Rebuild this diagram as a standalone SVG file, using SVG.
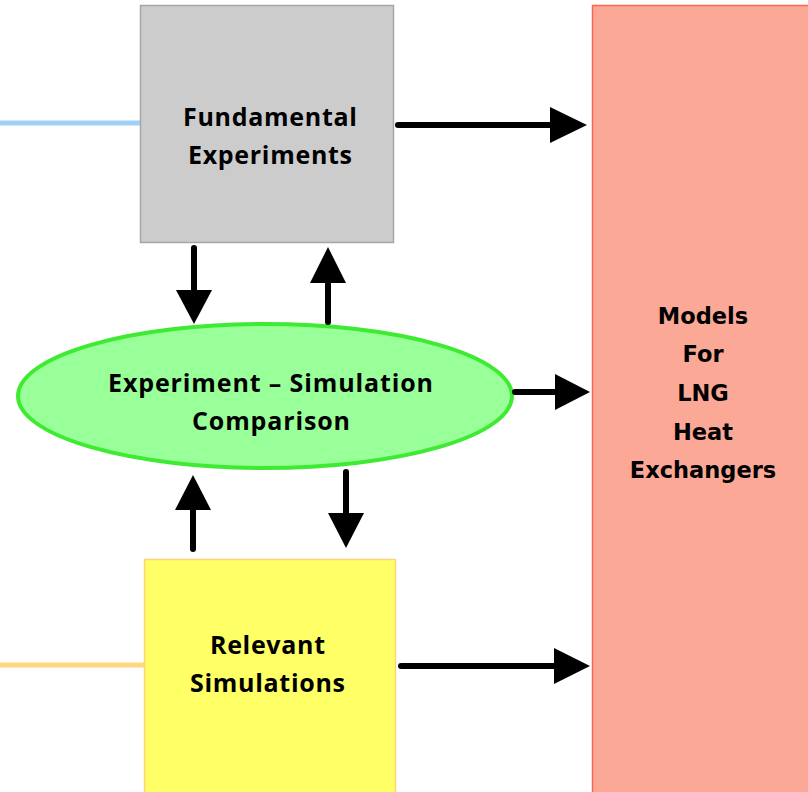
<svg xmlns="http://www.w3.org/2000/svg" width="808" height="792" viewBox="0 0 808 792">
<defs>
<style>
.lbl{font-family:"Open Sans","Liberation Sans",sans-serif;font-weight:bold;font-size:25px;fill:#000;text-anchor:middle}
.lbl2{font-family:"DejaVu Sans","Liberation Sans",sans-serif;font-weight:bold;font-size:22.5px;fill:#000;text-anchor:middle}
.arr{stroke:#000;stroke-width:6;stroke-linecap:round;fill:none}
.head{fill:#000}
</style>
</defs>
<rect width="808" height="792" fill="#fff"/>
<g id="feeds">
<line x1="0" y1="123" x2="141" y2="123" stroke="#9fd0f7" stroke-width="5"/>
<line x1="0" y1="665" x2="144" y2="665" stroke="#ffd77f" stroke-width="5"/>
</g>
<g id="models">
<rect x="592.5" y="5.5" width="220" height="792" fill="#fca896" stroke="#f4694f" stroke-width="1.5"/>
<text class="lbl2" x="703" y="324">Models</text>
<text class="lbl2" x="703" y="362">For</text>
<text class="lbl2" x="703" y="401">LNG</text>
<text class="lbl2" x="703" y="440">Heat</text>
<text class="lbl2" x="703" y="478">Exchangers</text>
</g>
<g id="fundamental">
<rect x="140.5" y="5.5" width="253" height="237" fill="#cccccc" stroke="#a6a6a6" stroke-width="1.5"/>
<text class="lbl" x="270" y="126" textLength="174" lengthAdjust="spacing">Fundamental</text>
<text class="lbl" x="270" y="164" textLength="164" lengthAdjust="spacing">Experiments</text>
</g>
<g id="comparison">
<ellipse cx="265" cy="396" rx="247" ry="72" fill="#99ff99" stroke="#3fea33" stroke-width="4"/>
<text class="lbl" x="270.5" y="392" textLength="325" lengthAdjust="spacing">Experiment – Simulation</text>
<text class="lbl" x="271" y="430" textLength="158" lengthAdjust="spacing">Comparison</text>
</g>
<g id="simulations">
<rect x="144.5" y="559.5" width="251" height="240" fill="#ffff66" stroke="#ffd27a" stroke-width="1.5"/>
<text class="lbl" x="267.5" y="654" textLength="115" lengthAdjust="spacing">Relevant</text>
<text class="lbl" x="267.5" y="692" textLength="155" lengthAdjust="spacing">Simulations</text>
</g>
<g id="connectors">
<line class="arr" x1="398" y1="125" x2="555" y2="125"/>
<polygon class="head" points="550,107 587,125 550,143"/>
<line class="arr" x1="515" y1="392" x2="558" y2="392"/>
<polygon class="head" points="555,374 590,392 555,410"/>
<line class="arr" x1="401" y1="666" x2="558" y2="666"/>
<polygon class="head" points="554,648 590,666 554,684"/>
<line class="arr" x1="194" y1="248" x2="194" y2="292"/>
<polygon class="head" points="176,290 212,290 194,324"/>
<line class="arr" x1="328" y1="322" x2="328" y2="280"/>
<polygon class="head" points="310,283 346,283 328,247"/>
<line class="arr" x1="193" y1="549" x2="193" y2="505"/>
<polygon class="head" points="175,510 211,510 193,475"/>
<line class="arr" x1="346" y1="472" x2="346" y2="516"/>
<polygon class="head" points="328,513 364,513 346,548"/>
</g>
</svg>
